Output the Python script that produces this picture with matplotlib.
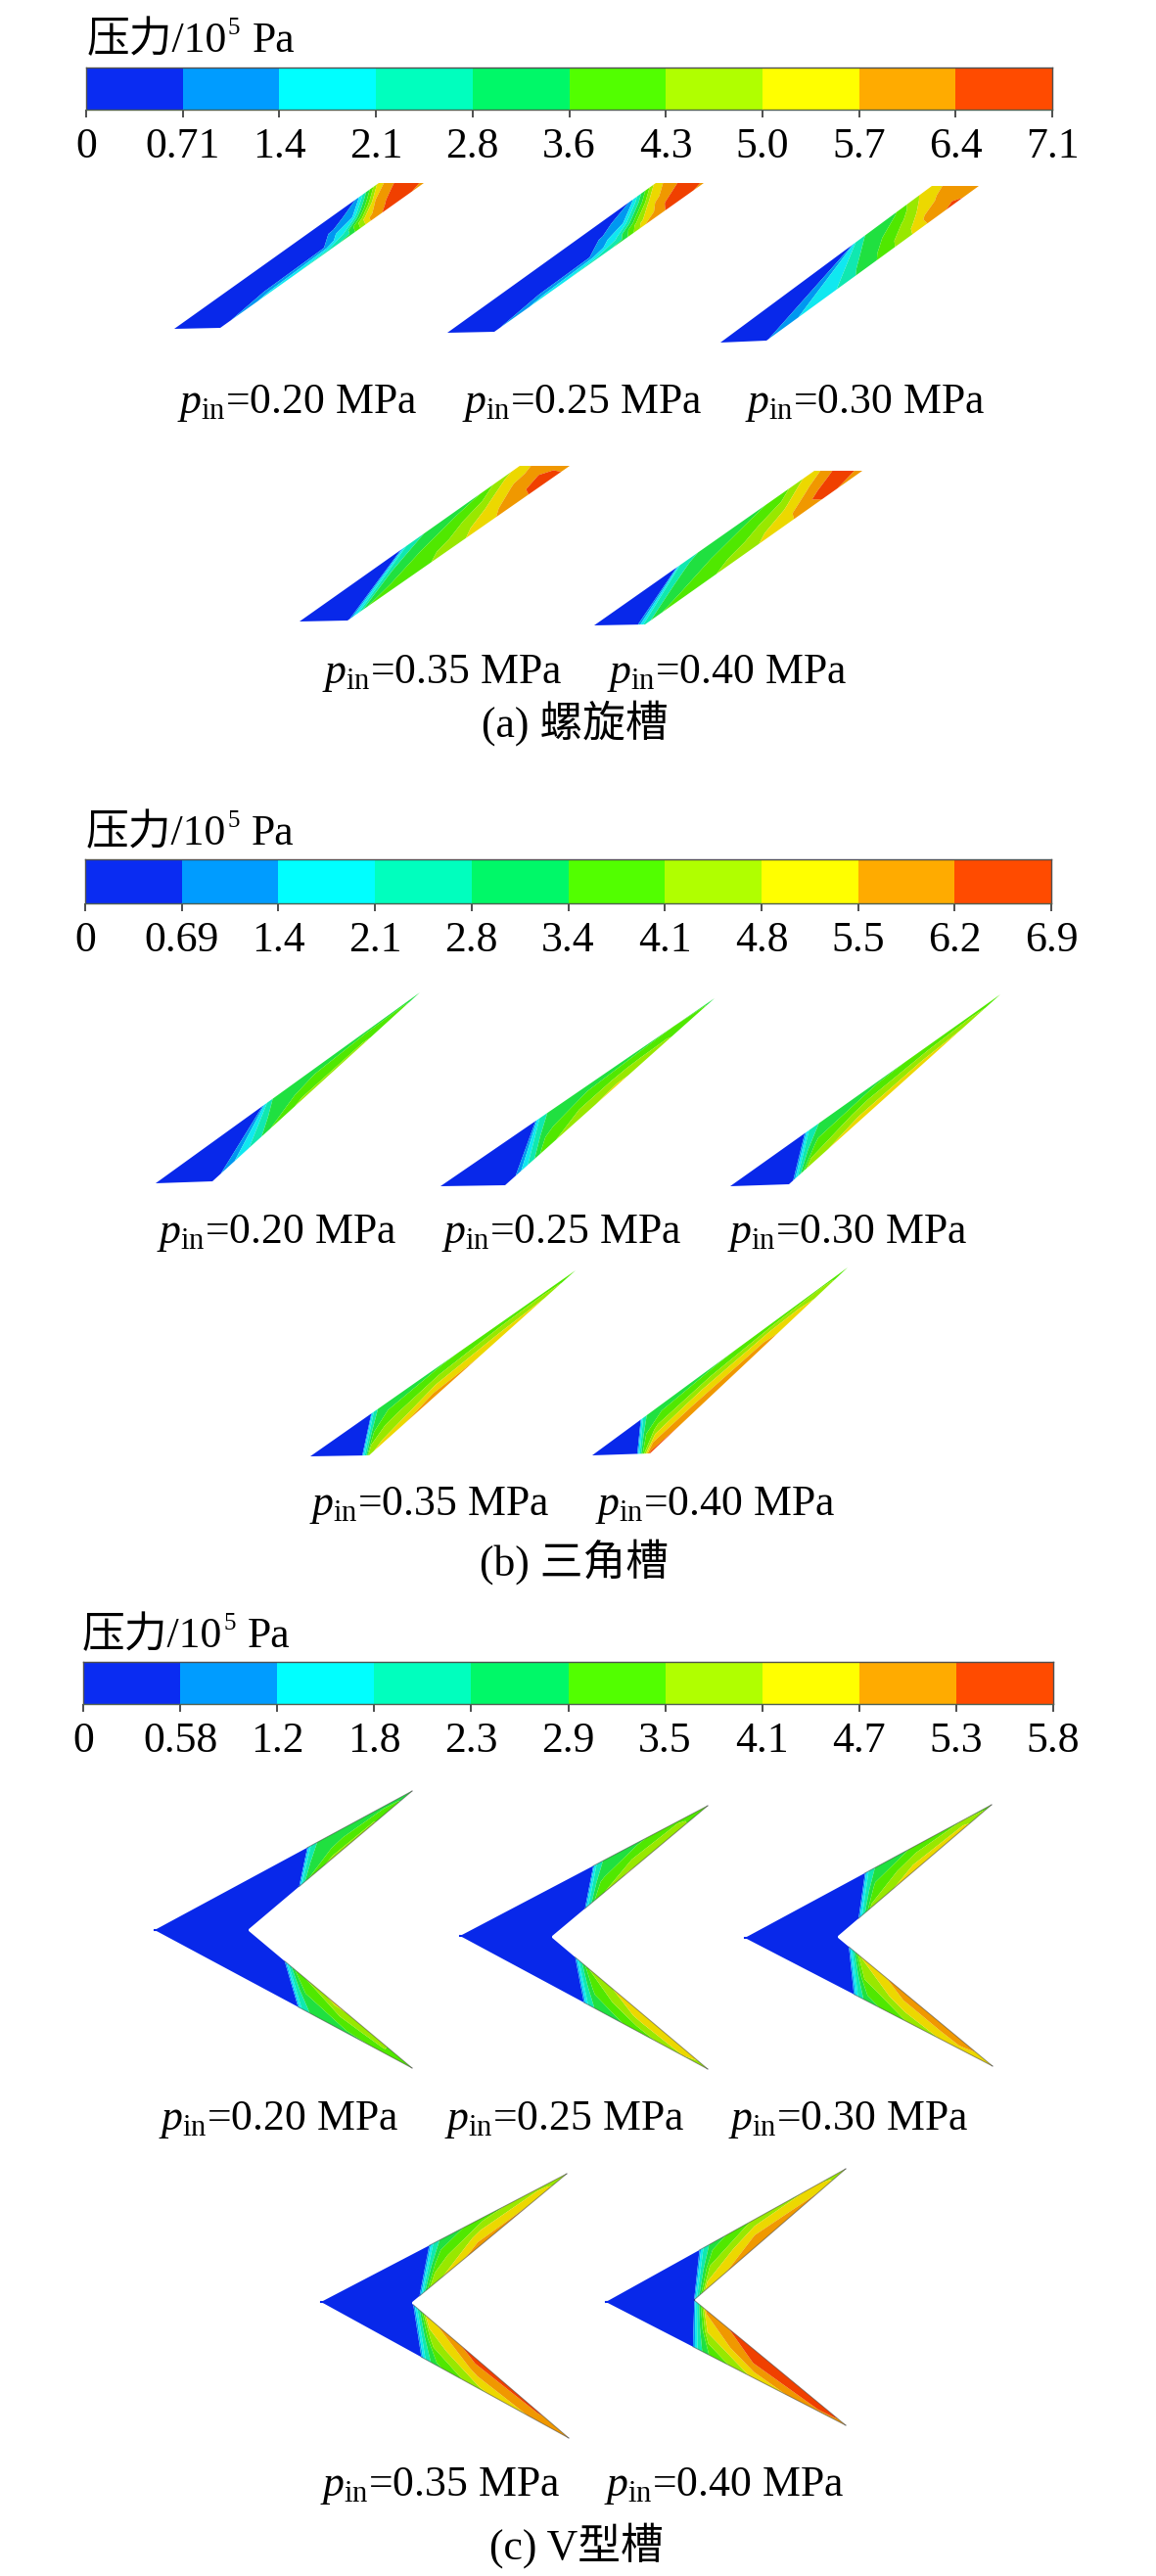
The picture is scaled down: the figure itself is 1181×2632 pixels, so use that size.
import numpy as np
import matplotlib
matplotlib.use('Agg')
import matplotlib.pyplot as plt
from matplotlib.colors import ListedColormap

plt.rcParams['font.family'] = ['Liberation Serif', 'Noto Sans CJK SC']
plt.rcParams['mathtext.fontset'] = 'custom'
plt.rcParams['mathtext.rm'] = 'Liberation Serif'
plt.rcParams['mathtext.it'] = 'Liberation Serif:italic'

W, H = 1181, 2632

# colour bands, legend and slightly duller groove colours
bar_colors = ['#0a2cf2', '#009cff', '#00ffff', '#00ffbe', '#00f868',
              '#52ff00', '#b0ff00', '#ffff00', '#ffab00', '#ff4b00']
groove_colors = ['#0828ea', '#0098f0', '#10e8f0', '#10e8b0', '#20e040',
                 '#50e800', '#98e800', '#ecd800', '#f09800', '#f04000']

ticks_a = ['0', '0.71', '1.4', '2.1', '2.8', '3.6', '4.3', '5.0', '5.7', '6.4', '7.1']
ticks_b = ['0', '0.69', '1.4', '2.1', '2.8', '3.4', '4.1', '4.8', '5.5', '6.2', '6.9']
ticks_c = ['0', '0.58', '1.2', '1.8', '2.3', '2.9', '3.5', '4.1', '4.7', '5.3', '5.8']

pressures = ['0.20', '0.25', '0.30', '0.35', '0.40']

# Pressure is given in colour-band units (band k covers k..k+1).
# A groove is cut into stations: each one is a line from a point on the first
# edge (u) to a point on the second edge (l), both as position along that edge.
# Each row of a field is one line along the groove, first edge to second edge.

# spiral grooves: corners bottom-left, bottom-right, top-left, top-right
s20_corners = [(178, 336), (225, 335), (387, 187), (433, 187)]
s20_u = [0, 0, .25, .55, .65, .76, .885, 1]
s20_l = [0, 1, 1.25, 1.55, 1.65, 1.76, 1.885, 2]
s20_p = [[.5, .5, .5, .5, .5, .5, .99, 7.5],
         [.5, .5, .5, .5, .9, 1.3, 8, 9.5],
         [.5, .5, .6, .9, 3, 7.5, 9.5, 9.5],
         [.5, .6, 2.5, 3.7, 4.5, 8.8, 9.5, 8.5]]

s25_corners = [(457, 340), (505, 339), (670, 187), (719, 187)]
s25_u = [0, 0, .25, .50, .62, .73, .87, 1]
s25_l = [0, 1, 1.25, 1.50, 1.62, 1.73, 1.87, 2]
s25_p = [[.5, .5, .5, .5, .5, .5, .99, 7.5],
         [.5, .5, .5, .5, .9, 1.4, 7.5, 9],
         [.5, .5, .7, 1.0, 2.8, 6.5, 9.2, 9.5],
         [.5, .8, 2.6, 3.6, 4.4, 8.2, 9.5, 8.7]]

s30_corners = [(736, 350), (783, 348), (952, 190), (1000, 190)]
s30_u = [0, 0, .625, .63, .64, .66, .72, .82, .86, .91, .94, 1]
s30_l = [0, 1, 1.01, 1.15, 1.33, 1.42, 1.54, 1.72, 1.79, 1.90, 1.94, 2]
s30_p = [[.5, .5, .99, 2, 3, 3.8, 4.3, 4.8, 5.5, 6.6, 7, 7.5],
         [.5, .5, .99, 2, 3, 3.9, 4.7, 6.2, 7, 7.9, 8.2, 8.5],
         [.5, .5, .99, 2, 3, 4, 5.1, 7.2, 8.4, 8.7, 8.6, 8.5],
         [.5, .5, .99, 2, 3, 4, 5.2, 7.4, 8.5, 9.5, 8.7, 8.3]]

s35_corners = [(306, 635), (355, 634), (531, 476), (582, 476)]
s35_u = [0, 0, .46, .47, .485, .51, .62, .72, .82, .92, .96, 1]
s35_l = [0, 1, 1.01, 1.025, 1.05, 1.09, 1.25, 1.44, 1.64, 1.83, 1.93, 2]
s35_p = [[.5, .5, .99, 2, 3, 3.6, 4.4, 4.7, 5, 6.7, 7, 7.5],
         [.5, .5, .99, 2, 3, 4, 5, 5.6, 6.8, 8.2, 8.4, 8.5],
         [.5, .5, .99, 2, 3, 4.6, 5.5, 6.2, 7.6, 9, 9.5, 8.6],
         [.5, .5, .99, 2, 3, 5, 5.4, 6.3, 7.8, 9.1, 9.5, 8.4]]

s40_corners = [(607, 639), (659, 638), (832, 481), (881, 481)]
s40_u = [0, .374, .38, .39, .40, .45, .58, .72, .84, .93, 1]
s40_l = [0, .86, .91, .97, 1, 1.08, 1.24, 1.44, 1.66, 1.84, 2]
s40_p = [[.5, .99, 2, 3, 3.5, 3.9, 4.5, 4.8, 5.2, 6.8, 7.5],
         [.5, .99, 2, 3, 3.5, 4.3, 5, 5.6, 6.8, 8.3, 9.3],
         [.5, .99, 2, 3, 3.5, 4.7, 5.5, 6.3, 7.7, 9.5, 9.1],
         [.5, .99, 2, 3, 3.5, 5, 5.6, 6.5, 7.8, 9.2, 8.5]]

# triangular grooves: corners bottom-left, bottom-right, tip
t20_corners = [(159, 1209), (217, 1207), (429, 1014)]
t20_u = [0, 0, .405, .415, .43, .45, .62, .80, .92, 1]
t20_l = [0, 1, 1.04, 1.14, 1.22, 1.28, 1.42, 1.72, 1.93, 2]
t20_p = [[.5, .5, .99, 2.5, 3.6, 4.2, 4.6, 4.7, 4.6, 4.3],
         [.5, .5, .99, 2.5, 3.6, 4.4, 5.4, 5.6, 5, 4.5],
         [.5, .5, .99, 2.5, 3.6, 5, 6.2, 6.2, 5.2, 4.5]]

t25_corners = [(450, 1212), (516, 1211), (730, 1020)]
t25_u = [0, 0, .347, .355, .37, .40, .55, .72, .85, 1]
t25_l = [0, 1, 1.05, 1.09, 1.13, 1.18, 1.32, 1.52, 1.76, 2]
t25_p = [[.5, .5, .99, 2.5, 3.6, 4.2, 4.5, 4.7, 5.0, 4.6],
         [.5, .5, .99, 2.5, 3.6, 4.8, 5.8, 6.1, 5.8, 4.8],
         [.5, .5, .99, 2.5, 3.6, 5.5, 6.6, 7.3, 6.2, 4.8]]

t30_corners = [(746, 1212), (806, 1210), (1022, 1016)]
t30_u = [0, 0, .276, .285, .30, .35, .55, .75, .9, 1]
t30_l = [0, 1, 1.02, 1.035, 1.05, 1.09, 1.30, 1.60, 1.85, 2]
t30_p = [[.5, .5, .99, 2.5, 3.6, 4.3, 4.8, 5.2, 5.5, 4.8],
         [.5, .5, .99, 2.5, 3.6, 5.2, 6.3, 6.6, 6.2, 5],
         [.5, .5, .99, 2.5, 3.6, 6.5, 7.6, 7.7, 6.9, 5.2]]

t35_corners = [(317, 1488), (377, 1487), (588, 1298)]
t35_u = [0, .23, .235, .245, .26, .30, .50, .72, .88, 1]
t35_l = [0, .885, .91, .95, 1.0, 1.06, 1.30, 1.62, 1.85, 2]
t35_p = [[.5, .99, 2.5, 3.6, 4.2, 4.4, 4.9, 5.3, 5.5, 4.8],
         [.5, .99, 2.5, 3.6, 5, 5.8, 6.7, 6.8, 6.3, 5],
         [.5, .99, 2.5, 3.6, 6.8, 7.3, 8.7, 7.7, 7, 5.2]]

t40_corners = [(605, 1487), (664, 1485), (866, 1295)]
t40_u = [0, .19, .195, .205, .22, .28, .50, .72, .90, 1]
t40_l = [0, .78, .81, .84, .90, 1.0, 1.15, 1.55, 1.85, 2]
t40_p = [[.5, .99, 2.5, 3.6, 4.3, 4.4, 4.9, 5.3, 5.7, 4.8],
         [.5, .99, 2.5, 3.6, 5, 6.3, 7.3, 7.6, 6.6, 5.2],
         [.5, .99, 2.5, 3.6, 6, 9.3, 9.0, 8.5, 6.9, 5.3]]

# V grooves: corners back tip, notch, upper tip, lower tip
v20_corners = [(158, 1972), (253, 1972), (421, 1830), (421, 2113)]
v20_up_u = [0, .593, .60, .615, .64, .76, .90, 1]
v20_up_l = [0, .313, .325, .34, .37, .50, .75, 1]
v20_up_p = [[.5, .99, 2.5, 3.6, 4.2, 4.5, 4.6, 4.3],
            [.5, .99, 2.5, 3.6, 4.6, 5.2, 5.7, 4.5],
            [.5, .99, 2.5, 3.6, 5, 6.3, 6.2, 4.5]]
v20_lo_u = [0, .557, .565, .58, .62, .75, .90, 1]
v20_lo_l = [0, .225, .24, .26, .30, .52, .80, 1]
v20_lo_p = [[.5, .99, 2.5, 3.6, 4.3, 4.8, 5.2, 4.5],
            [.5, .99, 2.5, 3.6, 5, 5.9, 6.1, 5],
            [.5, .99, 2.5, 3.6, 5.6, 7.3, 6.3, 5]]

v25_corners = [(470, 1978), (563, 1979), (723, 1845), (723, 2114)]
v25_up_u = [0, .538, .545, .56, .59, .72, .88, 1]
v25_up_l = [0, .216, .23, .25, .29, .48, .80, 1]
v25_up_p = [[.5, .99, 2.5, 3.6, 4.3, 4.8, 5.8, 5],
            [.5, .99, 2.5, 3.6, 4.9, 5.9, 6.3, 5.2],
            [.5, .99, 2.5, 3.6, 5.6, 7.1, 6.5, 5]]
v25_lo_u = [0, .50, .51, .525, .56, .72, .90, 1]
v25_lo_l = [0, .154, .17, .19, .24, .50, .85, 1]
v25_lo_p = [[.5, .99, 2.5, 3.6, 4.4, 5.4, 7, 6],
            [.5, .99, 2.5, 3.6, 5.2, 6.9, 7.5, 6.3],
            [.5, .99, 2.5, 3.6, 6, 7.7, 7.7, 6.5]]

v30_corners = [(761, 1980), (855, 1979), (1013, 1844), (1014, 2111)]
v30_up_u = [0, .487, .495, .51, .54, .70, .88, 1]
v30_up_l = [0, .14, .155, .175, .22, .48, .82, 1]
v30_up_p = [[.5, .99, 2.5, 3.6, 4.3, 5.2, 6, 5.2],
            [.5, .99, 2.5, 3.6, 5.2, 6.6, 6.9, 5.6],
            [.5, .99, 2.5, 3.6, 6.2, 7.6, 7.4, 5.6]]
v30_lo_u = [0, .44, .45, .465, .50, .65, .86, 1]
v30_lo_l = [0, .077, .09, .11, .15, .42, .80, 1]
v30_lo_p = [[.5, .99, 2.5, 3.6, 4.6, 6, 7.6, 7],
            [.5, .99, 2.5, 3.6, 6, 7.6, 8.2, 7.2],
            [.5, .99, 2.5, 3.6, 7, 8.6, 8.7, 7.2]]

v35_corners = [(328, 2352), (420, 2353), (579, 2221), (581, 2491)]
v35_up_u = [0, .44, .45, .465, .50, .66, .88, 1]
v35_up_l = [0, .054, .07, .085, .13, .42, .82, 1]
v35_up_p = [[.5, .99, 2.5, 3.6, 4.4, 5.6, 6.6, 5.2],
            [.5, .99, 2.5, 3.6, 5.6, 7.3, 7.5, 6],
            [.5, .99, 2.5, 3.6, 6.5, 8.5, 7.9, 6]]
v35_lo_u = [0, .405, .415, .43, .47, .64, .88, 1]
v35_lo_l = [0, .014, .03, .05, .10, .40, .80, 1]
v35_lo_p = [[.5, .99, 2.5, 3.6, 4.8, 6.8, 8.3, 8],
            [.5, .99, 2.5, 3.6, 6.4, 8.3, 8.7, 8.2],
            [.5, .99, 2.5, 3.6, 7.6, 9.5, 9.2, 8.2]]

v40_corners = [(619, 2352), (709, 2350), (864, 2216), (864, 2478)]
v40_up_u = [0, .39, .40, .415, .45, .62, .88, 1]
v40_up_l = [0, .001, .012, .03, .08, .40, .82, 1]
v40_up_p = [[.5, .99, 2.5, 3.6, 4.5, 6.2, 7.2, 5.6],
            [.5, .99, 2.5, 3.6, 6, 7.9, 7.8, 6],
            [.5, .99, 2.5, 3.6, 7.5, 8.7, 8, 6]]
v40_lo_u = [0, .363, .375, .39, .43, .62, .88, 1]
v40_lo_l = [0, .002, .012, .03, .08, .38, .85, 1]
v40_lo_p = [[.5, .99, 2.5, 3.6, 5, 7.3, 8.7, 8],
            [.5, .99, 2.5, 3.6, 7, 9, 9.4, 8.6],
            [.5, .99, 2.5, 3.6, 8.2, 9.8, 9.8, 8.6]]


def along(path, t):
    # points at positions t on a polyline, one unit per segment
    path = np.array(path, dtype=float)
    idx = np.arange(len(path))
    return np.interp(t, idx, path[:, 0]), np.interp(t, idx, path[:, 1])


def draw_groove(ax, edge_u, edge_l, u, l, field):
    p = np.array(field, dtype=float)
    xu, yu = along(edge_u, u)
    xl, yl = along(edge_l, l)
    # four-row fields keep more rows near the hot edge
    w = np.array([0, .45, .8, 1]) if len(p) == 4 else np.linspace(0, 1, len(p))
    w = w[:, None]
    x = xu + w * (xl - xu)
    y = yu + w * (yl - yu)
    ax.contourf(x, y, p, levels=np.arange(11), colors=groove_colors, antialiased=True)


def draw_spiral(ax, corners, u, l, field):
    bl, br, tl, tr = corners
    draw_groove(ax, [bl, tl, tr], [bl, br, tr], u, l, field)


def draw_triangle(ax, corners, u, l, field):
    bl, br, tip = corners
    draw_groove(ax, [bl, tip], [bl, br, tip], u, l, field)


def draw_v(ax, corners, up, lo):
    back, notch, top, bottom = corners
    draw_groove(ax, [back, top], [notch, top], *up)
    draw_groove(ax, [back, bottom], [notch, bottom], *lo)
    # hide the seam where the two wings meet
    ax.plot([back[0], notch[0]], [back[1], notch[1]], color=groove_colors[0], lw=1.5)
    # dark hairline along the hot part of the edges
    for tip, field in ((top, up), (bottom, lo)):
        xo, yo = along([back, tip], [field[0][1], 1])
        xi, yi = along([notch, tip], [field[1][1], 1])
        ax.plot(xo, yo, color='#404040', lw=0.7, alpha=0.55)
        ax.plot(xi, yi, color='#404040', lw=0.7, alpha=0.55)


def draw_bar(fig, left, right, top, bottom, labels):
    cax = fig.add_axes([left / W, 1 - bottom / H, (right - left) / W, (bottom - top) / H])
    cax.pcolormesh(np.arange(11), [0, 1], [np.arange(10)], cmap=ListedColormap(bar_colors))
    cax.set_yticks([])
    cax.set_xticks(np.arange(11))
    cax.set_xticklabels(labels, fontsize=31.5)
    cax.tick_params(axis='x', length=6, width=1.2, color='#303030', pad=7)
    for side in cax.spines.values():
        side.set_color('#505050')
        side.set_linewidth(1.0)
    cax.spines['bottom'].set_color('#506050')


def title(ax, x, y):
    ax.text(x, y, '压力/10', fontsize=31.5, va='baseline')
    ax.text(x + 144, y - 18, '5', fontsize=18, va='baseline')
    ax.text(x + 169, y, 'Pa', fontsize=31.5, va='baseline')


def inlet_label(ax, x, y, value):
    ax.text(x, y, r'$\mathit{p}_{\mathrm{in}}$=' + value + ' MPa', fontsize=31.5, va='baseline')


fig = plt.figure(figsize=(W / 100, H / 100), dpi=100, facecolor='white')
ax = fig.add_axes([0, 0, 1, 1])
ax.set_xlim(0, W)
ax.set_ylim(H, 0)
ax.axis('off')

draw_bar(fig, 88, 1075, 69, 112, ticks_a)
draw_bar(fig, 87, 1074, 878, 923, ticks_b)
draw_bar(fig, 85, 1076, 1698, 1741, ticks_c)

title(ax, 89, 53)
title(ax, 88, 863)
title(ax, 84, 1683)

draw_spiral(ax, s20_corners, s20_u, s20_l, s20_p)
draw_spiral(ax, s25_corners, s25_u, s25_l, s25_p)
draw_spiral(ax, s30_corners, s30_u, s30_l, s30_p)
draw_spiral(ax, s35_corners, s35_u, s35_l, s35_p)
draw_spiral(ax, s40_corners, s40_u, s40_l, s40_p)

draw_triangle(ax, t20_corners, t20_u, t20_l, t20_p)
draw_triangle(ax, t25_corners, t25_u, t25_l, t25_p)
draw_triangle(ax, t30_corners, t30_u, t30_l, t30_p)
draw_triangle(ax, t35_corners, t35_u, t35_l, t35_p)
draw_triangle(ax, t40_corners, t40_u, t40_l, t40_p)

draw_v(ax, v20_corners, (v20_up_u, v20_up_l, v20_up_p), (v20_lo_u, v20_lo_l, v20_lo_p))
draw_v(ax, v25_corners, (v25_up_u, v25_up_l, v25_up_p), (v25_lo_u, v25_lo_l, v25_lo_p))
draw_v(ax, v30_corners, (v30_up_u, v30_up_l, v30_up_p), (v30_lo_u, v30_lo_l, v30_lo_p))
draw_v(ax, v35_corners, (v35_up_u, v35_up_l, v35_up_p), (v35_lo_u, v35_lo_l, v35_lo_p))
draw_v(ax, v40_corners, (v40_up_u, v40_up_l, v40_up_p), (v40_lo_u, v40_lo_l, v40_lo_p))

# inlet pressure labels, three on the first row and two on the second
rows = [([181, 472, 761], 422, [329, 620], 698),
        ([160, 451, 743], 1270, [316, 608], 1548),
        ([162, 454, 744], 2176, [327, 617], 2550)]
for xs1, y1, xs2, y2 in rows:
    for x, value in zip(xs1 + xs2, pressures):
        inlet_label(ax, x, y1 if x in xs1 else y2, value)

ax.text(492, 753, '(a) 螺旋槽', fontsize=31.5, va='baseline')
ax.text(490, 1610, '(b) 三角槽', fontsize=31.5, va='baseline')
ax.text(500, 2615, '(c) V型槽', fontsize=31.5, va='baseline')

fig.savefig('out.png', dpi=100)
